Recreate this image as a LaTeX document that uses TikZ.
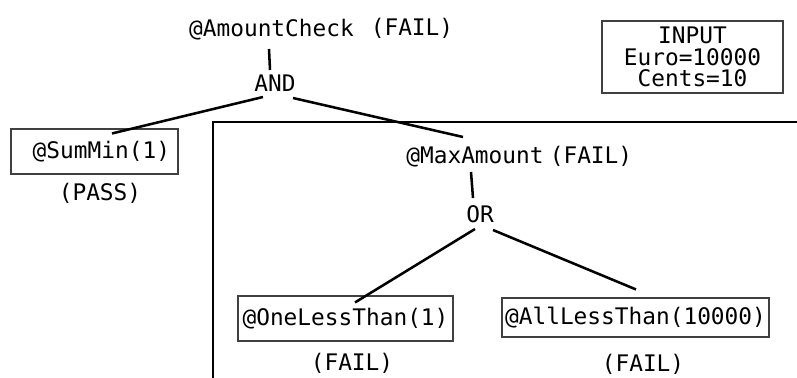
\documentclass[tikz,border=0pt]{standalone}
\usepackage{fontspec}
\setmonofont{DejaVu Sans Mono}
\usepackage{tikz}
\usetikzlibrary{calc}

\tikzset{
    txt/.style={font=\ttfamily\fontsize{17.1}{16}\selectfont, inner sep=0pt},
    cbox/.style={txt, draw=black!75, line width=0.8pt},
    link/.style={line width=1.9pt}
}

\begin{document}
\begin{tikzpicture}[x=0.75pt, y=-0.75pt]
        \useasboundingbox (0,0) rectangle (797,378);

        % Draw the outer frame of the sub tree
        \draw[line width=1.1pt] (213,378) |- (797,122);

        % Add the input values
        \node[cbox, align=center, minimum width=135.75pt, minimum height=54pt] (input) at (692.5,57) {INPUT\\Euro=10000\\Cents=10};

        % Add the top check and the AND
        \node[txt, anchor=base] (amount) at (271.5,37) {@AmountCheck};
        \node[txt, anchor=base] (amountres) at (412,36) {(FAIL)};
        \node[txt, anchor=base] (and) at (275,92) {AND};

        % Add the left branch
        \node[cbox, minimum width=125.25pt, minimum height=33.75pt] (summin) at (94.5,151.5) {\phantom{x}@SumMin(1)};
        \node[txt, anchor=base] (summinres) at (100,200) {(PASS)};

        % Add the right branch and the OR
        \node[txt, anchor=base] (maxamount) at (475,163) {@MaxAmount};
        \node[txt, anchor=base] (maxamountres) at (591,163) {(FAIL)};
        \node[txt, anchor=base] (or) at (480,222) {OR};

        \node[cbox, minimum width=161.25pt, minimum height=33.75pt] (oneless) at (345.5,318.5) {@OneLessThan(1)};
        \node[txt, anchor=base] (onelessres) at (352,370) {(FAIL)};
        \node[cbox, minimum width=200.25pt, minimum height=29.25pt] (allless) at (635.5,317.5) {@AllLessThan(10000)};
        \node[txt, anchor=base] (alllessres) at (643,371) {(FAIL)};

        % Draw the tree edges
        \draw[link] ($(amount.base)+(-2.5,12)$) -- ($(and.base)+(-5,-22)$);
        \draw[link] ($(and.base)+(-12,5)$) -- ($(summin.north)+(17.5,5)$);
        \draw[link] ($(and.base)+(18,6)$) -- ($(maxamount.base)+(-12,-26)$);
        \draw[link] ($(maxamount.base)+(-4,9)$) -- ($(or.base)+(-7,-24)$);
        \draw[link] ($(or.base)+(-5,7)$) -- ($(oneless.north)+(9.5,7)$);
        \draw[link] ($(or.base)+(13,8)$) -- ($(allless.north)+(0.5,-8)$);
    \end{tikzpicture}
\end{document}
